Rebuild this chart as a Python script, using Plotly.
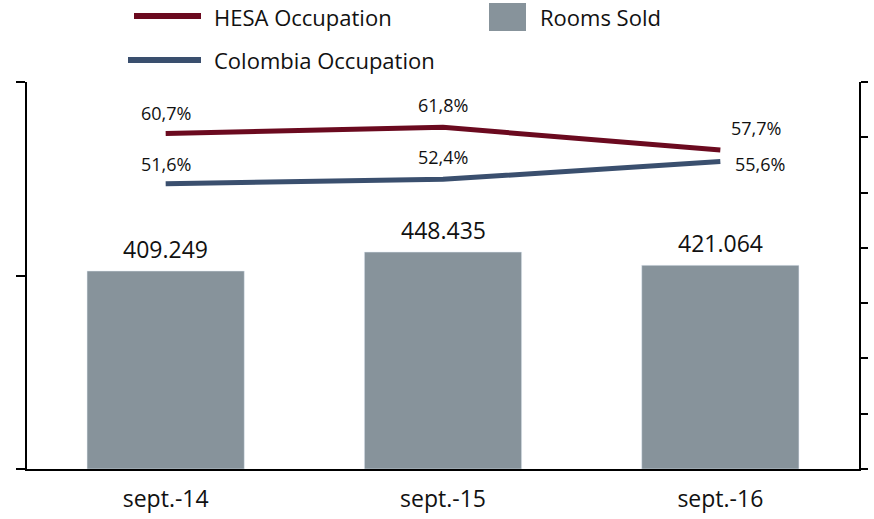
import plotly.graph_objects as go

# ---- data ----
categories = ["sept.-14", "sept.-15", "sept.-16"]
rooms_sold = [409249, 448435, 421064]
rooms_labels = ["409.249", "448.435", "421.064"]
hesa_occ = [0.607, 0.618, 0.577]
colombia_occ = [0.516, 0.524, 0.556]
hesa_labels = ["60,7%", "61,8%", "57,7%"]
colombia_labels = ["51,6%", "52,4%", "55,6%"]

# ---- styles ----
FONT = "Open Sans"
BAR_COLOR = "#87939B"
HESA_COLOR = "#6B0A1F"
COL_COLOR = "#3A4F6E"
W, H = 874, 519
# plot area in page pixels: x 27..859, y 82..469
ML, MR, MT, MB = 27, 874 - 859, 82, 519 - 469
PW, PH = W - ML - MR, H - MT - MB

def px(x):
    return (x - ML) / PW

def py(y):
    return (H - MB - y) / PH

fig = go.Figure()
fig.add_trace(go.Bar(x=categories, y=rooms_sold, marker_color=BAR_COLOR,
                     width=0.567, name="Rooms Sold", showlegend=False))
fig.add_trace(go.Scatter(x=categories, y=hesa_occ, yaxis="y2", mode="lines",
                         line=dict(color=HESA_COLOR, width=5), name="HESA Occupation",
                         showlegend=False))
fig.add_trace(go.Scatter(x=categories, y=colombia_occ, yaxis="y2", mode="lines",
                         line=dict(color=COL_COLOR, width=5), name="Colombia Occupation",
                         showlegend=False))

annotations = []
for c, v, t in zip(categories, rooms_sold, rooms_labels):
    annotations.append(dict(x=c, y=v, text=t, showarrow=False, yanchor="middle",
                            yshift=22, font=dict(family=FONT, size=23, color="#111")))

hesa_shift = [(0, 20), (0, 22), (36, 22)]
col_shift = [(0, 20), (0, 22), (40, -2)]
for c, v, t, (dx, dy) in zip(categories, hesa_occ, hesa_labels, hesa_shift):
    annotations.append(dict(x=c, y=v, yref="y2", text=t, showarrow=False,
                            xshift=dx, yshift=dy, font=dict(family=FONT, size=18, color="#111")))
for c, v, t, (dx, dy) in zip(categories, colombia_occ, colombia_labels, col_shift):
    annotations.append(dict(x=c, y=v, yref="y2", text=t, showarrow=False,
                            xshift=dx, yshift=dy, font=dict(family=FONT, size=18, color="#111")))

# legend (manual)
shapes = [
    dict(type="line", xref="paper", yref="paper", x0=px(134), x1=px(201), y0=py(16), y1=py(16),
         line=dict(color=HESA_COLOR, width=6)),
    dict(type="line", xref="paper", yref="paper", x0=px(128), x1=px(201), y0=py(60), y1=py(60),
         line=dict(color=COL_COLOR, width=6)),
    dict(type="rect", xref="paper", yref="paper", x0=px(489), x1=px(526), y0=py(31), y1=py(3),
         fillcolor=BAR_COLOR, line=dict(width=0)),
]
for txt, x, y in [("HESA Occupation", 213, 17), ("Colombia Occupation", 213, 60), ("Rooms Sold", 539, 17)]:
    annotations.append(dict(xref="paper", yref="paper", x=px(x), y=py(y), text=txt,
                            showarrow=False, xanchor="left", yanchor="middle", borderpad=0,
                            font=dict(family=FONT, size=22, color="#111")))

fig.update_layout(
    width=W, height=H,
    margin=dict(l=ML, r=MR, t=MT, b=MB, autoexpand=False),
    paper_bgcolor="white", plot_bgcolor="white",
    showlegend=False,
    xaxis=dict(showline=True, linecolor="black", linewidth=2, ticks="outside", ticklen=8,
               tickcolor="rgba(0,0,0,0)", showgrid=False, automargin=False,
               tickfont=dict(family=FONT, size=23, color="#111")),
    yaxis=dict(range=[0, 800000], dtick=400000, showline=True, linecolor="black", linewidth=2,
               ticks="outside", ticklen=9, tickwidth=2, tickcolor="black", automargin=False,
               showticklabels=False, showgrid=False, zeroline=False),
    yaxis2=dict(range=[0, 0.7], dtick=0.1, overlaying="y", side="right", showline=True,
                linecolor="black", linewidth=2, ticks="outside", ticklen=7, tickwidth=2,
                tickcolor="black", showticklabels=False, showgrid=False, zeroline=False,
                automargin=False),
    annotations=annotations,
    shapes=shapes,
)

fig.write_html("out.html", config={"displayModeBar": False},
               post_script="document.body.style.margin='0';")
